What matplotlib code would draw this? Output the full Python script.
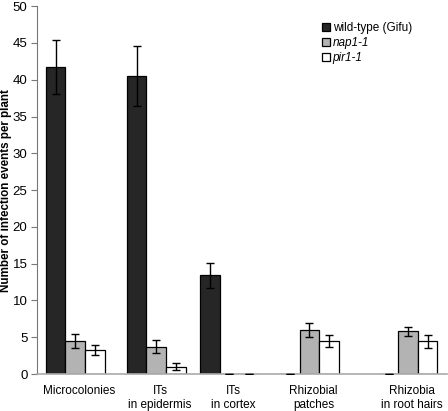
import matplotlib.pyplot as plt
import numpy as np

plt.rcParams['font.family'] = ['Liberation Sans', 'DejaVu Sans']

# data
categories = ["Microcolonies", "ITs\nin epidermis", "ITs\nin cortex",
              "Rhizobial\npatches", "Rhizobia\nin root hairs"]
wild_type = [41.7, 40.5, 13.4, 0, 0]
wild_type_err = [3.7, 4.1, 1.7, 0, 0]
nap1 = [4.5, 3.7, 0, 6.0, 5.8]
nap1_err = [1.0, 0.9, 0, 1.0, 0.65]
pir1 = [3.3, 1.0, 0, 4.5, 4.45]
pir1_err = [0.65, 0.5, 0, 0.8, 0.85]

# group centres (in bar widths), spacing as in the original figure
group_pos = np.array([1.95, 6.1, 9.85, 13.95, 19.0])
w = 1.0

fig = plt.figure(figsize=(4.48, 4.11), dpi=100)
ax = fig.add_axes([0.083, 0.09, 0.915, 0.895])

series = [
    (wild_type, wild_type_err, "#262626", "wild-type (Gifu)", -w),
    (nap1, nap1_err, "#b3b3b3", "nap1-1", 0),
    (pir1, pir1_err, "white", "pir1-1", w),
]
for vals, errs, col, lab, off in series:
    ax.bar(group_pos + off, vals, w, color=col, edgecolor="black",
           linewidth=0.9, label=lab, zorder=2)
    ax.errorbar(group_pos + off, vals, yerr=errs, fmt="none",
                ecolor="black", elinewidth=1, capsize=3, capthick=1, zorder=3)

ax.set_xlim(0, 21.0)
ax.set_ylim(0, 50)
ax.set_yticks(range(0, 51, 5))
ax.set_xticks(group_pos + 0.2)
ax.set_xticklabels(categories, fontsize=8.5, linespacing=1.25)
ax.tick_params(axis="x", length=0, pad=8)
ax.tick_params(axis="y", labelsize=9.5, length=4, color="#777777", pad=3)

for s in ["top", "right"]:
    ax.spines[s].set_visible(False)
ax.spines["left"].set_color("#777777")
ax.spines["bottom"].set_color("#aaaaaa")
ax.spines["bottom"].set_linewidth(1.2)

ax.set_ylabel("Number of infection events per plant", fontsize=8.4,
              fontweight="bold")
ax.yaxis.set_label_coords(-0.062, 0.5)

leg = ax.legend(loc="upper right", bbox_to_anchor=(0.94, 0.985), frameon=False,
                fontsize=8.5, handlelength=0.7, handleheight=0.7,
                handletextpad=0.2, labelspacing=0.25)
for t in leg.get_texts()[1:]:
    t.set_style("italic")

fig.savefig("out.png", dpi=100)
